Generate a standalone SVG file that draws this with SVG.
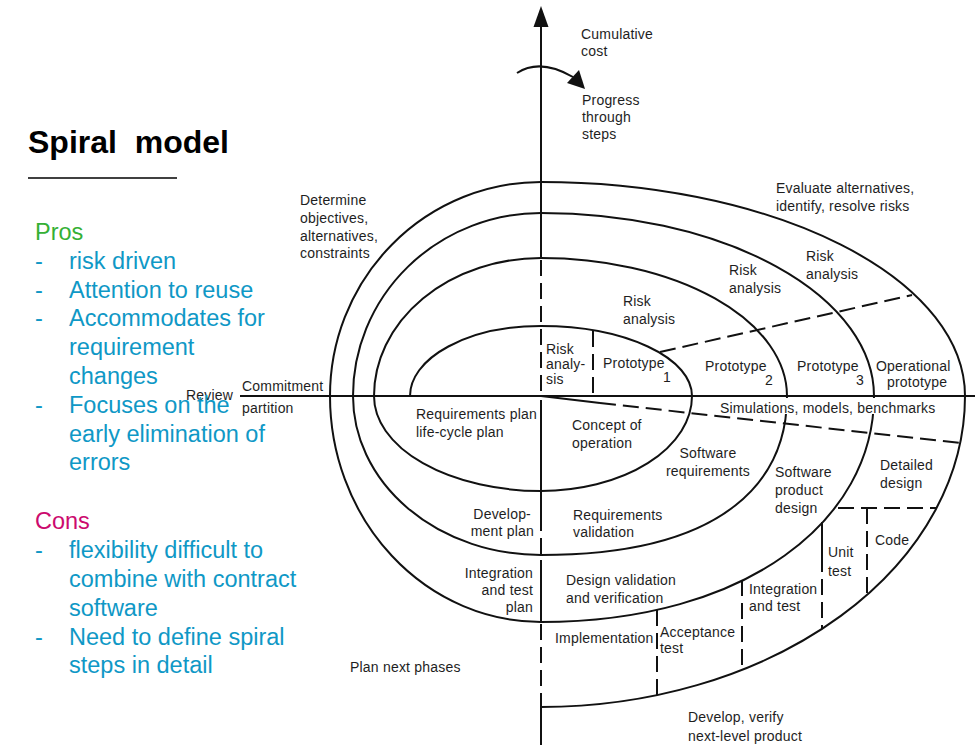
<svg xmlns="http://www.w3.org/2000/svg" width="975" height="746" viewBox="0 0 975 746">
  <style>
    .ln { fill: none; stroke: #111; stroke-width: 2; }
    .dash { fill: none; stroke: #111; stroke-width: 2; stroke-dasharray: 16 7; }
    .t { font-family: "Liberation Sans", Arial, sans-serif; font-size: 14px; fill: #1e1e1e; letter-spacing: 0.2px; }
    .e { text-anchor: end; }
    .m { text-anchor: middle; }
    .side { font-family: "Liberation Sans", Arial, sans-serif; font-size: 23.5px; }
    .blue { fill: #0f98c6; }
  </style>
  <rect width="975" height="746" fill="#ffffff"/>

  <!-- Left panel: title and pros/cons list -->
  <g id="title">
    <text x="28" y="153" font-family="Liberation Sans, Arial, sans-serif" font-size="32" font-weight="bold" fill="#000" xml:space="preserve">Spiral  model</text>
    <line x1="28" y1="178" x2="177" y2="178" stroke="#000" stroke-width="1.5"/>
  </g>

  <!-- Review label sits behind the blue list text -->
  <g id="review">
    <text class="t" x="186" y="400" fill="#444">Review</text>
  </g>

  <g id="pros" class="side">
    <text x="35" y="240" fill="#35b035">Pros</text>
    <g class="blue">
      <text x="35" y="269">-</text><text x="69" y="269">risk driven</text>
      <text x="35" y="298">-</text><text x="69" y="298">Attention to reuse</text>
      <text x="35" y="326">-</text><text x="69" y="326">Accommodates for</text>
      <text x="69" y="355">requirement</text>
      <text x="69" y="384">changes</text>
      <text x="35" y="413">-</text><text x="69" y="413">Focuses on the</text>
      <text x="69" y="442">early elimination of</text>
      <text x="69" y="470">errors</text>
    </g>
  </g>

  <g id="cons" class="side">
    <text x="35" y="529" fill="#cc0a6e">Cons</text>
    <g class="blue">
      <text x="35" y="558">-</text><text x="69" y="558">flexibility difficult to</text>
      <text x="69" y="587">combine with contract</text>
      <text x="69" y="616">software</text>
      <text x="35" y="645">-</text><text x="69" y="645">Need to define spiral</text>
      <text x="69" y="673">steps in detail</text>
    </g>
  </g>

  <!-- Axes -->
  <g id="axes">
    <line class="ln" x1="541" y1="20" x2="541" y2="258"/>
    <line class="dash" x1="541" y1="260" x2="541" y2="396" stroke-dasharray="22 6"/>
    <line class="ln" x1="541" y1="400" x2="541" y2="515"/>
    <line class="dash" x1="541" y1="515" x2="541" y2="560" stroke-dasharray="14 6"/>
    <line class="ln" x1="541" y1="560" x2="541" y2="622"/>
    <line class="dash" x1="541" y1="624" x2="541" y2="707" stroke-dasharray="20 9"/>
    <line class="ln" x1="541" y1="707" x2="541" y2="745"/>
    <polygon points="541,6 533.5,27 548.5,27" fill="#111"/>
    <line class="ln" x1="240" y1="396" x2="975" y2="396"/>
    <!-- progress arrow wrapping the cost axis -->
    <path class="ln" d="M517,73 Q540,58 573,77"/>
    <polygon points="585,89 567,83 579,70" fill="#111"/>
  </g>

  <!-- The spiral itself -->
  <g id="connectors">
    <path id="spiral" class="ln" d="M410,396
      A131,70 0 0 1 541,326
      A151,70 0 0 1 692,396
      A151,95 0 0 1 541,491
      A167,95 0 0 1 374,396
      A167,138 0 0 1 541,258
      A246,138 0 0 1 787,396
      C787,476 731,555 541,555
      A188,159 0 0 1 353,396
      A188,183 0 0 1 541,213
      A333,183 0 0 1 874,396
      C874,520 747,622 541,622
      A211,226 0 0 1 330,396
      A211,214 0 0 1 541,182
      A424,214 0 0 1 965,396
      A424,311 0 0 1 541,707"/>

    <!-- phase dividers -->
    <line class="dash" x1="593" y1="331" x2="593" y2="396" stroke-dasharray="14 6"/>
    <line class="dash" x1="660" y1="352" x2="912" y2="295"/>
    <path class="ln" d="M541,396 L600,403"/>
    <line class="dash" x1="600" y1="403" x2="960" y2="443"/>
    <line class="dash" x1="838" y1="508" x2="937" y2="508"/>
    <line class="dash" x1="867" y1="508" x2="867" y2="595" stroke-dasharray="14 6"/>
    <path class="ln" d="M822,522 L822,556"/>
    <line class="dash" x1="822" y1="556" x2="822" y2="629" stroke-dasharray="14 6"/>
    <line class="dash" x1="742" y1="580" x2="742" y2="670" stroke-dasharray="14 6"/>
    <line class="dash" x1="657" y1="610" x2="657" y2="696" stroke-dasharray="14 6"/>
  </g>

  <!-- Quadrant headings -->
  <g id="axis-labels">
    <text class="t" x="581" y="39">Cumulative</text>
    <text class="t" x="581" y="56">cost</text>
    <text class="t" x="582" y="105">Progress</text>
    <text class="t" x="582" y="122">through</text>
    <text class="t" x="582" y="139">steps</text>
  </g>
  <g id="q-determine">
    <text class="t" x="300" y="205">Determine</text>
    <text class="t" x="300" y="223">objectives,</text>
    <text class="t" x="300" y="241">alternatives,</text>
    <text class="t" x="300" y="258">constraints</text>
  </g>
  <g id="q-evaluate">
    <text class="t" x="776" y="193" letter-spacing="0.6">Evaluate alternatives,</text>
    <text class="t" x="776" y="211" letter-spacing="0.6">identify, resolve risks</text>
  </g>
  <g id="q-plan">
    <text class="t" x="350" y="672">Plan next phases</text>
  </g>
  <g id="q-develop">
    <text class="t" x="688" y="722">Develop, verify</text>
    <text class="t" x="688" y="741">next-level product</text>
  </g>
  <g id="commitment">
    <text class="t" x="242" y="391">Commitment</text>
    <text class="t" x="242" y="413">partition</text>
  </g>

  <!-- Risk analysis rounds -->
  <g id="risk-1">
    <text class="t" x="546" y="354">Risk</text>
    <text class="t" x="546" y="369">analy-</text>
    <text class="t" x="546" y="384">sis</text>
  </g>
  <g id="risk-2">
    <text class="t" x="623" y="306">Risk</text>
    <text class="t" x="623" y="324">analysis</text>
  </g>
  <g id="risk-3">
    <text class="t" x="729" y="275">Risk</text>
    <text class="t" x="729" y="293">analysis</text>
  </g>
  <g id="risk-4">
    <text class="t" x="806" y="261">Risk</text>
    <text class="t" x="806" y="279">analysis</text>
  </g>

  <!-- Prototypes -->
  <g id="proto-1">
    <text class="t" x="603" y="368">Prototype</text>
    <text class="t" x="663" y="382">1</text>
  </g>
  <g id="proto-2">
    <text class="t" x="705" y="371">Prototype</text>
    <text class="t" x="765" y="385">2</text>
  </g>
  <g id="proto-3">
    <text class="t" x="797" y="371">Prototype</text>
    <text class="t" x="856" y="385">3</text>
  </g>
  <g id="proto-op">
    <text class="t" x="876" y="371">Operational</text>
    <text class="t" x="887" y="387">prototype</text>
  </g>
  <g id="simulations">
    <!-- white band masks the spiral where the label crosses it -->
    <rect x="717" y="398" width="224" height="16" fill="#ffffff"/>
    <text class="t" x="720" y="413" letter-spacing="0.5">Simulations, models, benchmarks</text>
  </g>

  <!-- Lower-left planning steps -->
  <g id="req-plan">
    <text class="t" x="416" y="419">Requirements plan</text>
    <text class="t" x="416" y="437">life-cycle plan</text>
  </g>
  <g id="dev-plan">
    <text class="t e" x="531" y="519">Develop-</text>
    <text class="t e" x="534" y="536">ment plan</text>
  </g>
  <g id="int-plan">
    <text class="t e" x="533" y="578">Integration</text>
    <text class="t e" x="533" y="595">and test</text>
    <text class="t e" x="533" y="612">plan</text>
  </g>

  <!-- Lower-right development steps -->
  <g id="concept">
    <text class="t" x="572" y="430">Concept of</text>
    <text class="t" x="572" y="448">operation</text>
  </g>
  <g id="sw-req">
    <text class="t m" x="708" y="458">Software</text>
    <text class="t m" x="708" y="476">requirements</text>
  </g>
  <g id="sw-design">
    <text class="t" x="775" y="477">Software</text>
    <text class="t" x="775" y="495">product</text>
    <text class="t" x="775" y="513">design</text>
  </g>
  <g id="detailed">
    <text class="t" x="880" y="470">Detailed</text>
    <text class="t" x="880" y="488">design</text>
  </g>
  <g id="req-val">
    <text class="t" x="573" y="520">Requirements</text>
    <text class="t" x="573" y="537">validation</text>
  </g>
  <g id="design-val">
    <text class="t" x="566" y="585">Design validation</text>
    <text class="t" x="566" y="603">and verification</text>
  </g>
  <g id="code">
    <text class="t" x="875" y="545">Code</text>
  </g>
  <g id="unit">
    <text class="t" x="828" y="557">Unit</text>
    <text class="t" x="828" y="576">test</text>
  </g>
  <g id="integration">
    <text class="t" x="749" y="594">Integration</text>
    <text class="t" x="749" y="611">and test</text>
  </g>
  <g id="implementation">
    <text class="t" x="555" y="643">Implementation</text>
  </g>
  <g id="acceptance">
    <text class="t" x="660" y="637">Acceptance</text>
    <text class="t" x="660" y="653">test</text>
  </g>
</svg>
